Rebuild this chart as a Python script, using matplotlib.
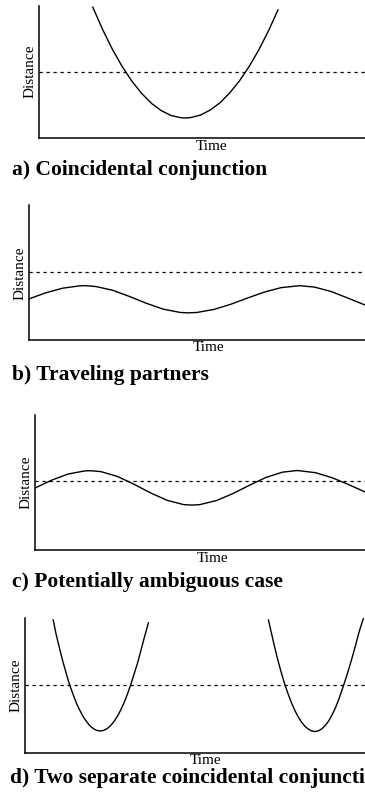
import matplotlib
matplotlib.use("Agg")
import matplotlib.pyplot as plt

plt.rcParams['font.family'] = ['Liberation Serif', 'DejaVu Serif']

# panel a: one deep approach
a_time = [1.65, 1.95, 2.25, 2.55, 2.85, 3.15, 3.45, 3.75, 4.05, 4.35, 4.48,
          4.65, 4.95, 5.25, 5.55, 5.85, 6.15, 6.45, 6.75, 7.05, 7.33]
a_dist = [9.89, 8.20, 6.70, 5.39, 4.27, 3.34, 2.59, 2.04, 1.67, 1.50, 1.48,
          1.51, 1.70, 2.08, 2.63, 3.38, 4.30, 5.40, 6.68, 8.15, 9.68]
a_thresh = 4.95

# panel b: stays below the threshold
b_time = [0.0, 0.5, 1.0, 1.5, 1.67, 2.0, 2.5, 3.0, 3.5, 4.0, 4.5, 4.73, 5.0,
          5.5, 6.0, 6.5, 7.0, 7.5, 8.0, 8.07, 8.5, 9.0, 9.5, 10.0]
b_dist = [3.07, 3.52, 3.86, 4.03, 4.05, 3.98, 3.70, 3.24, 2.74, 2.31, 2.07, 2.04, 2.07,
          2.29, 2.67, 3.13, 3.57, 3.90, 4.03, 4.04, 3.94, 3.61, 3.12, 2.62]
b_thresh = 5.05

# panel c: oscillates around the threshold
c_time = [0.0, 0.5, 1.0, 1.5, 1.67, 2.0, 2.5, 3.0, 3.5, 4.0, 4.5, 4.75, 5.0,
          5.5, 6.0, 6.5, 7.0, 7.5, 7.93, 8.0, 8.5, 9.0, 9.5, 10.0]
c_dist = [4.57, 5.15, 5.61, 5.84, 5.86, 5.79, 5.43, 4.85, 4.21, 3.66, 3.34, 3.30, 3.34,
          3.64, 4.16, 4.78, 5.36, 5.75, 5.87, 5.86, 5.71, 5.34, 4.83, 4.28]
c_thresh = 5.1

# panel d: two separate approaches
d1_time = [0.83, 0.91, 1.01, 1.11, 1.21, 1.31, 1.41, 1.51, 1.61, 1.71, 1.81, 1.91, 2.01, 2.11,
           2.21,
           2.31, 2.41, 2.51, 2.61, 2.71, 2.81, 2.91, 3.01, 3.11, 3.21, 3.31, 3.41, 3.51, 3.63]
d1_dist = [9.85, 8.85, 7.80, 6.80, 5.90, 5.04, 4.35, 3.68, 3.15, 2.66, 2.30, 1.98, 1.78, 1.64,
           1.60,
           1.64, 1.77, 1.98, 2.28, 2.66, 3.13, 3.68, 4.32, 5.04, 5.85, 6.65, 7.60, 8.55, 9.64]
d2_time = [7.16, 7.23, 7.33, 7.43, 7.53, 7.63, 7.73, 7.83, 7.93, 8.03, 8.13, 8.23, 8.33, 8.43,
           8.53,
           8.63, 8.73, 8.83, 8.93, 9.03, 9.13, 9.23, 9.33, 9.43, 9.53, 9.63, 9.73, 9.83, 9.95]
d2_dist = [9.85, 9.08, 7.97, 6.94, 6.01, 5.16, 4.41, 3.74, 3.16, 2.67, 2.27, 1.96, 1.74, 1.60,
           1.56,
           1.61, 1.76, 2.00, 2.34, 2.79, 3.32, 3.96, 4.70, 5.45, 6.26, 7.13, 8.04, 9.00, 9.95]
d_thresh = 5.05

# the last caption is cut at the right edge in the picture
titles = ["a) Coincidental conjunction",
          "b) Traveling partners",
          "c) Potentially ambiguous case",
          "d) Two separate coincidental conjuncti"]

W, H = 365, 796
fig = plt.figure(figsize=(W / 100, H / 100), dpi=100)


def make_axes(left, top, right, bottom):
    # pixel box -> figure fraction
    ax = fig.add_axes([left / W, 1 - bottom / H, (right - left) / W, (bottom - top) / H])
    ax.set_xlim(0, 10)
    ax.set_ylim(0, 10)
    for s in ['top', 'right']:
        ax.spines[s].set_visible(False)
    for s in ['left', 'bottom']:
        ax.spines[s].set_linewidth(1.1)
    ax.set_xticks([])
    ax.set_yticks([])
    return ax


def decorate(ax, thresh, time_x, time_y):
    ax.axhline(thresh, color='black', lw=0.9, linestyle=(0, (2.6, 3.0)))
    ax.set_ylabel('Distance', fontsize=11, labelpad=1.5)
    ax.set_xlabel('Time', fontsize=11)
    ax.xaxis.set_label_coords(time_x, time_y)


ax_a = make_axes(39, 5.7, 365, 137.5)
ax_a.plot(a_time, a_dist, color='black', lw=1.0)
decorate(ax_a, a_thresh, 0.528, -0.02)

ax_b = make_axes(29, 205, 365, 340.5)
ax_b.plot(b_time, b_dist, color='black', lw=1.0)
decorate(ax_b, b_thresh, 0.533, -0.005)

ax_c = make_axes(35, 415, 365, 549.5)
ax_c.plot(c_time, c_dist, color='black', lw=1.0)
decorate(ax_c, c_thresh, 0.538, -0.018)

ax_d = make_axes(25, 618, 365, 752.5)
ax_d.plot(d1_time, d1_dist, color='black', lw=1.0)
ax_d.plot(d2_time, d2_dist, color='black', lw=1.0)
decorate(ax_d, d_thresh, 0.532, -0.012)

# panel captions, baselines
for title, x, base in zip(titles, [12, 12, 12, 10], [175, 380, 587, 783]):
    fig.text(x / W, 1 - base / H, title, fontsize=15.5, fontweight='bold',
             va='baseline', ha='left')

fig.savefig('out.png', dpi=100)
